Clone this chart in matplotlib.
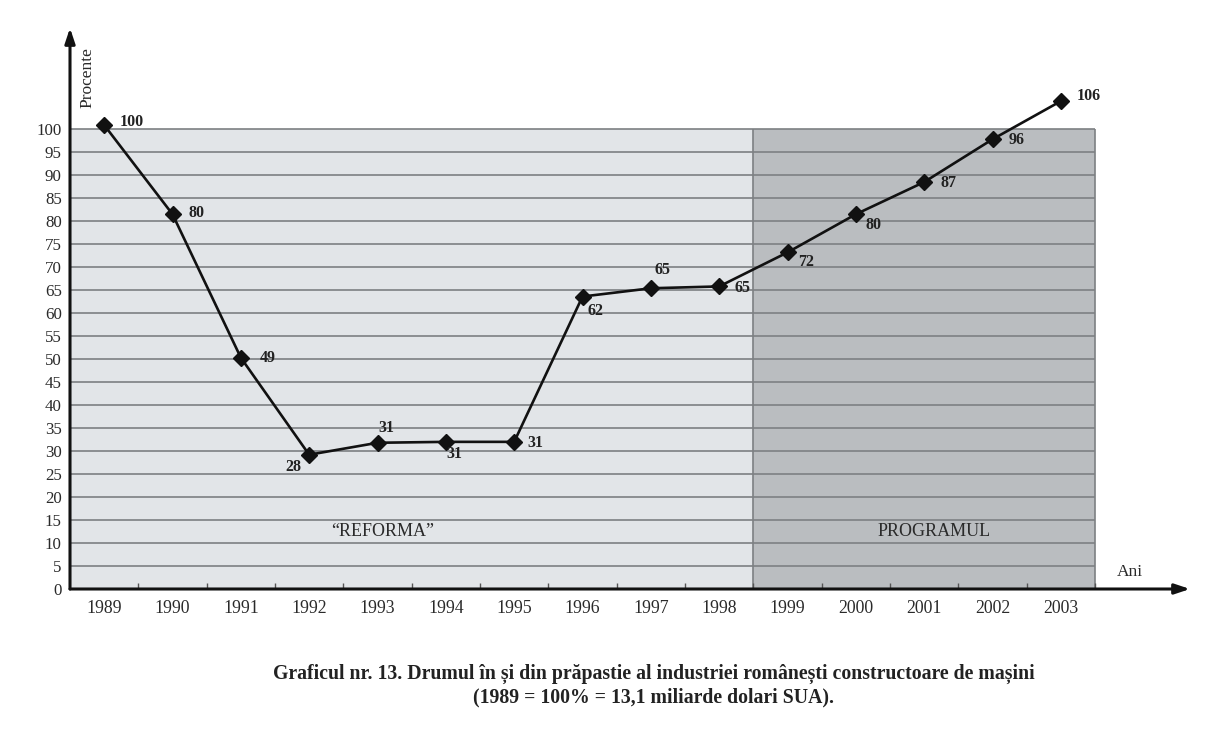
import matplotlib
matplotlib.use("Agg")
import matplotlib.pyplot as plt
import numpy as np

# ---- data ----
years = ["1989", "1990", "1991", "1992", "1993", "1994", "1995", "1996",
         "1997", "1998", "1999", "2000", "2001", "2002", "2003"]
values = [100.9, 81.5, 50.3, 29.2, 31.8, 32.0, 32.0, 63.6,
          65.4, 65.8, 73.2, 81.5, 88.5, 97.8, 106.1]
value_labels = ["100", "80", "49", "28", "31", "31", "31", "62",
                "65", "65", "72", "80", "87", "96", "106"]
# label offsets in pixels (dx, dy) relative to each point
label_offsets = [(28, 3), (24, 1), (27, 0), (-16, -12), (9, 15), (9, -12),
                 (21, -1), (13, -14), (12, 18), (23, -2), (19, -10),
                 (18, -11), (24, -1), (24, -1), (28, 5)]
y_ticks = list(range(0, 101, 5))
periods = ["\u201cREFORMA\u201d", "PROGRAMUL"]
caption = ("Graficul nr. 13. Drumul \u00een \u0219i din pr\u0103pastie al industriei rom\u00e2ne\u0219ti constructoare de ma\u0219ini\n"
           "(1989 = 100% = 13,1 miliarde dolari SUA).")

plt.rcParams['font.family'] = ['Liberation Serif', 'DejaVu Serif']

fig = plt.figure(figsize=(12.23, 7.40), dpi=100)
ax = fig.add_axes([70 / 1223, (740 - 589) / 740, (1190 - 70) / 1223, (589 - 28) / 740])

n = len(years)
x = np.arange(n)
split = 10  # 1999 starts the second period
xmin, xmax = -0.5, 15.89
ymax = 122.0
ax.set_xlim(xmin, xmax)
ax.set_ylim(0, ymax)

light = "#e2e5e8"
dark = "#babdc0"
grid_c = "#7d8083"
ax.axvspan(-0.5, split - 0.5, ymin=0, ymax=100 / ymax, color=light, lw=0, zorder=0)
ax.axvspan(split - 0.5, n - 0.5, ymin=0, ymax=100 / ymax, color=dark, lw=0, zorder=0)
ax.hlines(y_ticks[1:], -0.5, n - 0.5, colors=grid_c, lw=1.2, zorder=1)
ax.vlines([split - 0.5, n - 0.5], 0, 100, colors=grid_c, lw=1.2, zorder=1)

ax.plot(x, values, color="#111111", lw=1.9, marker="D", ms=8, mfc="#111111",
        mec="#111111", zorder=4, clip_on=False)
for xi, v, lab, (dx, dy) in zip(x, values, value_labels, label_offsets):
    ax.annotate(lab, (xi, v), xytext=(dx, dy), textcoords="offset pixels",
                ha="center", va="center", fontsize=11.5, fontweight="bold",
                color="#222222", zorder=5, annotation_clip=False)

ax.text(4.08, 12.4, periods[0], ha="center", va="center", fontsize=13, color="#2a2a2a")
ax.text(12.14, 12.4, periods[1], ha="center", va="center", fontsize=13, color="#2a2a2a")

# axes
for s in ax.spines.values():
    s.set_visible(False)
arrow = dict(arrowstyle="-|>,head_length=0.9,head_width=0.3", color="#111111", lw=2.2,
             shrinkA=0, shrinkB=0)
ax.annotate("", xy=(xmax, 0), xytext=(xmin, 0), arrowprops=arrow, annotation_clip=False)
ax.annotate("", xy=(xmin, ymax), xytext=(xmin, 0), arrowprops=arrow, annotation_clip=False)

ax.set_yticks(y_ticks)
ax.set_yticklabels([str(t) for t in y_ticks], fontsize=12.2, color="#2a2a2a")
ax.tick_params(axis="y", length=0, pad=6)
ax.set_xticks(x)
ax.set_xticklabels(years, fontsize=12.8, color="#2a2a2a")
ax.tick_params(axis="x", length=0, pad=8)
ax.set_xticks(np.arange(0.5, n, 1.0), minor=True)
ax.tick_params(axis="x", which="minor", length=4, width=1, color="#555555", direction="in")

ax.text(xmin + 0.25, 111.3, "Procente", rotation=90, ha="center", va="center",
        fontsize=12.5, color="#2a2a2a")
ax.text(15.01, 3.8, "Ani", ha="center", va="center", fontsize=12.5, color="#2a2a2a")

fig.text(654 / 1223, 1 - 686 / 740, caption, ha="center", va="center", fontsize=14.2,
         fontweight="bold", color="#222222", linespacing=1.25)

fig.savefig("out.png", dpi=100, facecolor="white")
